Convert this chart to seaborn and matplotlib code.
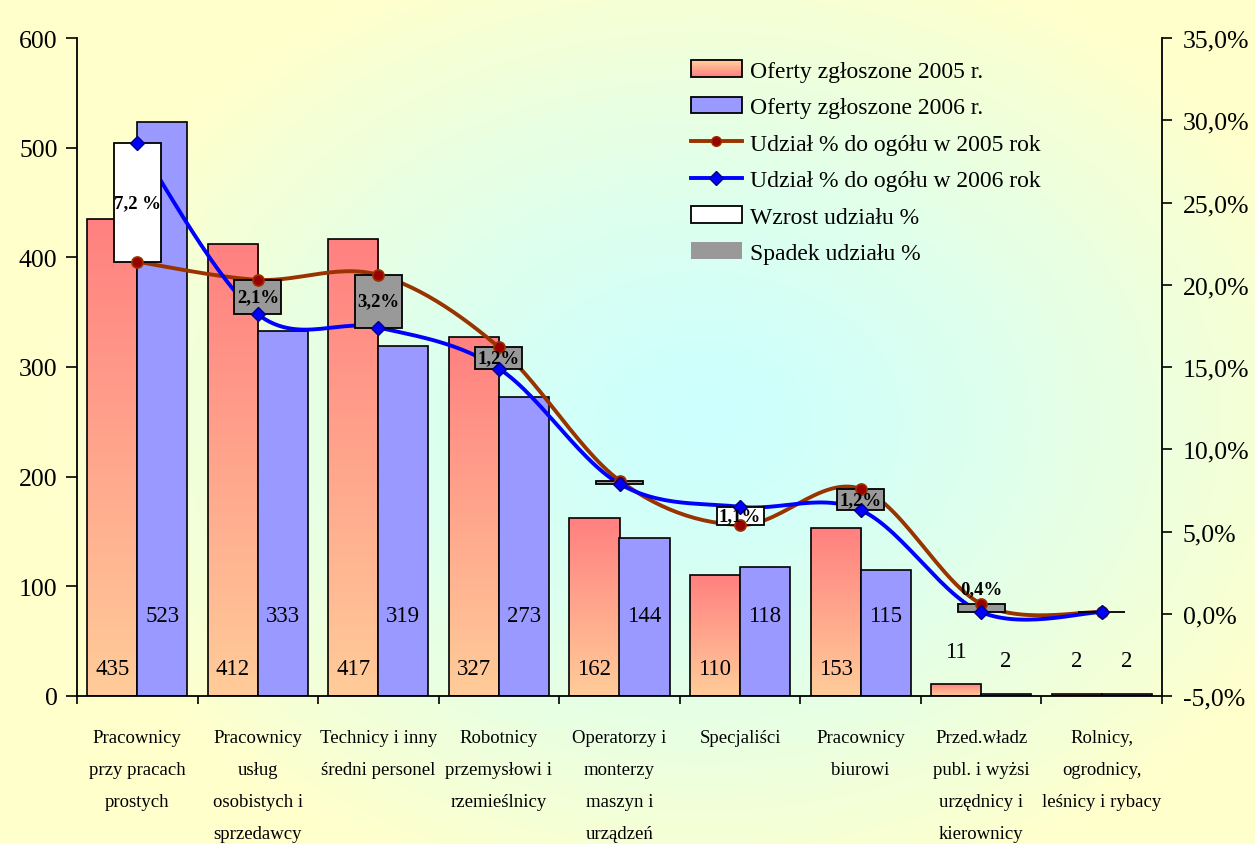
import numpy as np
import pandas as pd
import seaborn as sns
import matplotlib.pyplot as plt
from matplotlib.patches import Rectangle, Patch
from matplotlib.lines import Line2D
from matplotlib.legend_handler import HandlerBase
from matplotlib.colors import LinearSegmentedColormap, to_rgb
from matplotlib.ticker import FixedLocator

# dane
kategorie = ['Pracownicy\nprzy pracach\nprostych',
             'Pracownicy\nusług\nosobistych i\nsprzedawcy',
             'Technicy i inny\nśredni personel',
             'Robotnicy\nprzemysłowi i\nrzemieślnicy',
             'Operatorzy i\nmonterzy\nmaszyn i\nurządzeń',
             'Specjaliści',
             'Pracownicy\nbiurowi',
             'Przed.władz\npubl. i wyżsi\nurzędnicy i\nkierownicy',
             'Rolnicy,\nogrodnicy,\nleśnicy i rybacy']
oferty_2005 = [435, 412, 417, 327, 162, 110, 153, 11, 2]
oferty_2006 = [523, 333, 319, 273, 144, 118, 115, 2, 2]
udzial_2005 = [21.4, 20.3, 20.6, 16.2, 8.1, 5.4, 7.6, 0.6, 0.1]
udzial_2006 = [28.6, 18.2, 17.4, 14.9, 7.9, 6.5, 6.3, 0.1, 0.1]
roznica_etykiety = ['7,2 %', '2,1%', '3,2%', '1,2%', '', '1,1%', '1,2%', '0,4%', '']

plt.rcParams['font.family'] = ['Liberation Serif', 'DejaVu Serif']

df = pd.DataFrame({
    'kategoria': kategorie * 2,
    'oferty': oferty_2005 + oferty_2006,
    'rok': ['2005'] * len(kategorie) + ['2006'] * len(kategorie),
})

W, H = 1255, 845
fig = plt.figure(figsize=(W / 100, H / 100), dpi=100)

# tlo - gradient od srodka (cyjan) do brzegow (jasnozolty)
bg = fig.add_axes([0, 0, 1, 1], zorder=-10)
gx, gy = np.meshgrid(np.linspace(0, 1, 400), np.linspace(0, 1, 300))
d = np.sqrt(((gx - 0.56) / 0.52) ** 2 + ((gy - 0.5) / 0.58) ** 2)
t = np.clip(d, 0, 1) ** 1.3
c_in = np.array(to_rgb('#CCFFFF'))
c_out = np.array(to_rgb('#FFFFCC'))
img = c_in * (1 - t[..., None]) + c_out * t[..., None]
bg.imshow(img, extent=[0, 1, 0, 1], aspect='auto', origin='lower')
bg.axis('off')

ax = fig.add_axes([77 / W, 148 / H, 1085 / W, 658 / H])
ax.set_facecolor('none')

sns.barplot(data=df, x='kategoria', y='oferty', hue='rok',
            palette={'2005': '#FF8080', '2006': '#9999FF'},
            width=0.83, saturation=1, edgecolor='black', linewidth=1.2,
            legend=False, ax=ax)

# gradient na slupkach 2005
cmap_red = LinearSegmentedColormap.from_list('red_grad', ['#FFCC99', '#FF8080'])
grad = np.linspace(0, 1, 256).reshape(-1, 1)
for bar in ax.containers[0]:
    x0 = bar.get_x()
    h = bar.get_height()
    im = ax.imshow(grad, extent=[x0, x0 + bar.get_width(), 0, h], origin='lower',
                   cmap=cmap_red, aspect='auto', zorder=bar.get_zorder() - 0.1)
    im.set_clip_path(bar)
    bar.set_facecolor('none')

# etykiety wartosci
for cont, base in zip(ax.containers, [25, 73]):
    for bar in cont:
        h = bar.get_height()
        y = base if h > 80 else h + 30
        ax.text(bar.get_x() + bar.get_width() / 2, y, f'{int(h)}',
                ha='center', va='center', fontsize=16.5)

ax.set_xlim(-0.5, 8.5)
ax.set_ylim(0, 600)
ax.set_yticks(range(0, 601, 100))
ax.set_xlabel('')
ax.set_ylabel('')
ax.tick_params(axis='y', direction='out', length=8, width=1.2, labelsize=18.5, pad=6)
ax.tick_params(axis='x', which='major', length=0, labelsize=13.5, pad=24)
ax.xaxis.set_minor_locator(FixedLocator(np.arange(-0.5, 9, 1)))
ax.tick_params(axis='x', which='minor', direction='out', length=6, width=1.2)
for lab in ax.get_xticklabels():
    lab.set_linespacing(2.15)
    lab.set_va('top')
for s in ['top', 'right']:
    ax.spines[s].set_visible(False)
for s in ['left', 'bottom']:
    ax.spines[s].set_linewidth(1.3)

# os prawa - udzialy procentowe
ax2 = ax.twinx()
ax2.set_ylim(-5, 35)
ax2.set_yticks(range(-5, 36, 5))
ax2.set_yticklabels([f'{v:.1f}%'.replace('.', ',') for v in range(-5, 36, 5)])
ax2.tick_params(axis='y', direction='out', length=7, width=1.2, labelsize=18.5, pad=8)
for s in ['top', 'left', 'bottom']:
    ax2.spines[s].set_visible(False)
ax2.spines['right'].set_linewidth(1.3)


def wygladz(xs, ys, n=30):
    p = np.column_stack([xs, ys]).astype(float)
    p = np.vstack([p[0], p, p[-1]])
    out = []
    for i in range(1, len(p) - 2):
        p0, p1, p2, p3 = p[i - 1], p[i], p[i + 1], p[i + 2]
        c1 = p1 + (p2 - p0) / 6
        c2 = p2 - (p3 - p1) / 6
        tt = np.linspace(0, 1, n)[:, None]
        seg = ((1 - tt) ** 3) * p1 + 3 * ((1 - tt) ** 2) * tt * c1 + 3 * (1 - tt) * tt ** 2 * c2 + tt ** 3 * p2
        out.append(seg)
    out = np.vstack(out)
    return out[:, 0], out[:, 1]


xs = np.arange(len(kategorie))
sx, sy = wygladz(xs, udzial_2005)
ax2.plot(sx, sy, color='#993300', lw=2.8, zorder=2)
sx, sy = wygladz(xs, udzial_2006)
ax2.plot(sx, sy, color='#0000FF', lw=2.8, zorder=2)

# slupki wzrostu / spadku udzialu
bw = 0.39
for i, (a, b, lab) in enumerate(zip(udzial_2005, udzial_2006, roznica_etykiety)):
    lo, hi = min(a, b), max(a, b)
    kolor = 'white' if b >= a else '#999999'
    ax2.add_patch(Rectangle((i - bw / 2, lo), bw, hi - lo, facecolor=kolor,
                            edgecolor='black', lw=1.3, zorder=3))
    if lab:
        y = (lo + hi) / 2 if hi - lo >= 0.8 else hi + 0.95
        ax2.text(i, y, lab, ha='center', va='center', fontsize=13.5,
                 fontweight='bold', zorder=5)

ax2.plot(xs, udzial_2005, ls='none', marker='o', ms=8, mfc='#990000',
         mec='#993300', mew=1.2, zorder=4)
ax2.plot(xs, udzial_2006, ls='none', marker='D', ms=7.5, mfc='#0000FF',
         mec='#000080', mew=1.0, zorder=4)


class GradHandler(HandlerBase):
    def create_artists(self, legend, orig, xd, yd, width, height, fontsize, trans):
        arts = []
        n = 12
        for k in range(n):
            c = cmap_red(1 - k / (n - 1))
            arts.append(Rectangle((xd, yd + height * k / n), width, height / n + 0.3,
                                  facecolor=c, edgecolor='none', transform=trans))
        arts.append(Rectangle((xd, yd), width, height, facecolor='none',
                              edgecolor='black', lw=1.3, transform=trans))
        return arts


h_2005 = Patch(facecolor='#FFA08A', edgecolor='black')
h_2006 = Patch(facecolor='#9999FF', edgecolor='black', lw=1.3)
h_l05 = Line2D([], [], color='#993300', lw=2.8, marker='o', ms=7, mfc='#990000', mec='#993300')
h_l06 = Line2D([], [], color='#0000FF', lw=2.8, marker='D', ms=7, mfc='#0000FF', mec='#000080')
h_up = Patch(facecolor='white', edgecolor='black', lw=1.3)
h_down = Patch(facecolor='#999999', edgecolor='none')
leg = ax2.legend([h_2005, h_2006, h_l05, h_l06, h_up, h_down],
                 ['Oferty zgłoszone 2005 r.', 'Oferty zgłoszone 2006 r.',
                  'Udział % do ogółu w 2005 rok', 'Udział % do ogółu w 2006 rok',
                  'Wzrost udziału %', 'Spadek udziału %'],
                 handler_map={h_2005: GradHandler()},
                 loc='upper left', bbox_to_anchor=(0.566, 0.966), frameon=False,
                 fontsize=17, handlelength=2.15, handleheight=0.7,
                 handletextpad=0.35, labelspacing=0.63, borderpad=0,
                 borderaxespad=0)

fig.savefig('out.png', dpi=100)
